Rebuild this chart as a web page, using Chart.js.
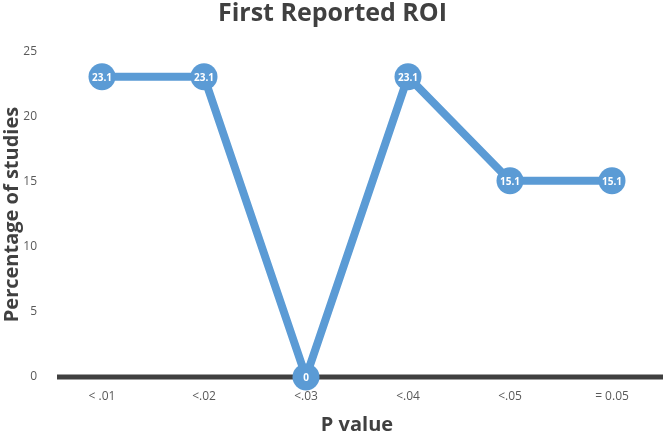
<!DOCTYPE html>
<html>
<head>
<meta charset="utf-8">
<script src="https://cdn.jsdelivr.net/npm/chart.js@4"></script>
<style>
  html, body { margin: 0; padding: 0; background: #fff; }
  #wrap { width: 663px; height: 434px; }
</style>
</head>
<body>
<div id="wrap"><canvas id="roiChart"></canvas></div>
<script>
// data
const categories = ['< .01', '<.02', '<.03', '<.04', '<.05', '= 0.05'];
const percentStudies = [23.1, 23.1, 0, 23.1, 15.1, 15.1];
const yTicks = [0, 5, 10, 15, 20, 25];

const blue = '#5B9BD5';
const grey = '#595959';

// thick dark baseline at zero
const zeroLine = {
    id: 'zeroLine',
    beforeDatasetsDraw(chart) {
        const ctx = chart.ctx;
        const y = chart.scales.y.getPixelForValue(0);
        ctx.save();
        ctx.strokeStyle = '#404040';
        ctx.lineWidth = 5;
        ctx.beginPath();
        ctx.moveTo(chart.chartArea.left + 6, y);
        ctx.lineTo(chart.width, y);
        ctx.stroke();
        ctx.restore();
    }
};

// white value labels inside the markers
const pointLabels = {
    id: 'pointLabels',
    afterDatasetsDraw(chart) {
        const ctx = chart.ctx;
        const meta = chart.getDatasetMeta(0);
        ctx.save();
        ctx.fillStyle = '#fff';
        ctx.font = 'bold 10px "Open Sans"';
        ctx.textAlign = 'center';
        ctx.textBaseline = 'middle';
        meta.data.forEach((pt, i) => {
            ctx.fillText(String(percentStudies[i]), pt.x, pt.y + 1);
        });
        ctx.restore();
    }
};

const ctx = document.getElementById('roiChart').getContext('2d');
new Chart(ctx, {
    type: 'line',
    data: {
        labels: categories,
        datasets: [{
            data: percentStudies,
            borderColor: blue,
            backgroundColor: blue,
            borderWidth: 8,
            pointRadius: 13.5,
            pointBorderWidth: 0,
            pointBackgroundColor: blue,
            tension: 0
        }]
    },
    options: {
        responsive: true,
        maintainAspectRatio: false,
        animation: false,
        clip: false,
        layout: { autoPadding: false, padding: { top: 0, left: 0, bottom: 0, right: -2 } },
        plugins: {
            legend: { display: false },
            tooltip: { enabled: false },
            title: {
                display: true,
                text: 'First Reported ROI',
                color: '#404040',
                font: { family: 'Open Sans', size: 25, weight: 'bold' },
                padding: { top: -1, bottom: 23 }
            }
        },
        scales: {
            x: {
                offset: true,
                grid: { display: false, drawTicks: false },
                border: { display: false },
                ticks: {
                    color: grey,
                    font: { family: 'Open Sans', size: 12 },
                    padding: 12
                },
                title: {
                    display: true,
                    text: 'P value',
                    color: '#404040',
                    font: { family: 'Open Sans', size: 20, weight: 'bold' },
                    padding: { top: 0, bottom: -3 }
                },
                afterFit(scale) {
                    scale.paddingLeft = 0;
                    scale.paddingRight = 0;
                    scale.height = 57;
                }
            },
            y: {
                min: 0,
                max: 25,
                afterBuildTicks(scale) {
                    scale.ticks = yTicks.map(v => ({ value: v }));
                },
                grid: { display: false, drawTicks: false },
                border: { display: false },
                ticks: {
                    color: grey,
                    font: { family: 'Open Sans', size: 12 },
                    padding: 14
                },
                title: {
                    display: true,
                    text: 'Percentage of studies',
                    color: '#404040',
                    font: { family: 'Open Sans', size: 20, weight: 'bold' },
                    padding: { top: 0, bottom: 0 }
                },
                afterFit(scale) {
                    scale.width = 51;
                }
            }
        }
    },
    plugins: [zeroLine, pointLabels]
});
</script>
</body>
</html>
